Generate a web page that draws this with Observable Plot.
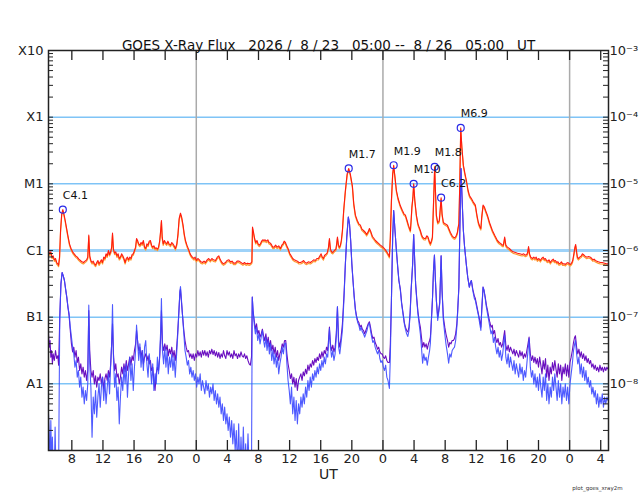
<!DOCTYPE html>
<html><head><meta charset="utf-8">
<script src="https://cdn.jsdelivr.net/npm/d3@7"></script>
<script src="https://cdn.jsdelivr.net/npm/@observablehq/plot@0.6"></script>
<style>body{margin:0;background:#fff} svg text{white-space:pre}</style>
</head><body><div id="chart"></div><script>
// Each pair: [hours since 2026-08-23 05:00 UT, log10 flux in W/m^2]
const longChannel = [[0,-6.00],[0.15,-6.05],[0.3,-6.02],[0.45,-6.1],[0.6,-6.08],[0.75,-6.14],[0.9,-6.12],[1.05,-6.18],[1.2,-6.2],[1.3,-6.22],[1.42,-6.1],[1.55,-5.7],[1.7,-5.45],[1.84,-5.387],[1.98,-5.45],[2.15,-5.55],[2.3,-5.65],[2.5,-5.78],[2.7,-5.9],[2.9,-5.97],[3.1,-6.02],[3.3,-6.05],[3.5,-6.08],[3.7,-6.1],[3.9,-6.13],[4.1,-6.15],[4.3,-6.17],[4.5,-6.18],[4.7,-6.16],[4.9,-6.14],[5.05,-6.1],[5.18,-5.77],[5.3,-6.08],[5.45,-6.15],[5.6,-6.18],[5.75,-6.16],[5.9,-6.2],[6.05,-6.22],[6.2,-6.18],[6.35,-6.15],[6.5,-6.2],[6.65,-6.17],[6.8,-6.14],[6.95,-6.18],[7.1,-6.1],[7.25,-6.12],[7.4,-6.05],[7.55,-6.08],[7.71,-6.00],[7.85,-6.06],[8.0,-6.02],[8.12,-5.95],[8.23,-5.74],[8.35,-5.98],[8.5,-6.04],[8.65,-6.02],[8.8,-6.08],[8.95,-6.05],[9.1,-6.12],[9.25,-6.1],[9.4,-6.05],[9.55,-6.08],[9.7,-6.12],[9.85,-6.18],[10.0,-6.12],[10.15,-6.1],[10.3,-6.14],[10.45,-6.1],[10.6,-6.12],[10.75,-6.06],[10.9,-6.05],[11.05,-6.0],[11.2,-5.95],[11.32,-5.82],[11.45,-5.85],[11.6,-5.9],[11.75,-5.92],[11.9,-5.88],[12.05,-5.9],[12.2,-5.85],[12.35,-5.95],[12.5,-5.97],[12.65,-5.9],[12.8,-5.92],[12.95,-5.86],[13.1,-5.85],[13.25,-5.92],[13.4,-5.95],[13.55,-5.93],[13.7,-5.97],[13.85,-5.96],[14.0,-5.98],[14.15,-5.95],[14.3,-5.85],[14.42,-5.7],[14.52,-5.55],[14.62,-5.8],[14.75,-5.9],[14.9,-5.85],[15.05,-5.88],[15.2,-5.9],[15.35,-5.86],[15.5,-5.9],[15.68,-5.92],[15.85,-5.88],[16.0,-5.9],[16.15,-5.93],[16.32,-5.97],[16.5,-5.9],[16.65,-5.75],[16.8,-5.52],[16.97,-5.44],[17.12,-5.5],[17.3,-5.62],[17.45,-5.75],[17.61,-5.85],[17.8,-5.92],[18.0,-5.98],[18.15,-6.03],[18.3,-6.07],[18.5,-6.1],[18.7,-6.12],[18.85,-6.1],[19.02,-6.15],[19.2,-6.12],[19.4,-6.14],[19.6,-6.17],[19.8,-6.18],[20.0,-6.16],[20.18,-6.18],[20.4,-6.14],[20.6,-6.12],[20.8,-6.15],[21.0,-6.12],[21.2,-6.14],[21.47,-6.15],[21.7,-6.1],[21.9,-6.08],[22.1,-6.14],[22.3,-6.18],[22.5,-6.2],[22.75,-6.18],[22.95,-6.15],[23.2,-6.14],[23.4,-6.17],[23.6,-6.16],[23.8,-6.19],[24.04,-6.19],[24.25,-6.16],[24.5,-6.16],[24.75,-6.18],[25.0,-6.20],[25.2,-6.18],[25.4,-6.2],[25.6,-6.19],[25.8,-6.2],[26.0,-6.19],[26.15,-6.17],[26.23,-5.65],[26.35,-5.72],[26.5,-5.82],[26.65,-5.88],[26.8,-5.85],[26.95,-5.9],[27.1,-5.92],[27.25,-5.9],[27.4,-5.86],[27.55,-5.84],[27.7,-5.85],[27.85,-5.84],[28.0,-5.86],[28.2,-5.84],[28.35,-5.88],[28.53,-5.89],[28.7,-5.92],[28.85,-5.95],[29.0,-5.95],[29.2,-5.92],[29.4,-5.95],[29.6,-5.93],[29.82,-5.97],[30.0,-5.92],[30.15,-5.9],[30.3,-5.86],[30.46,-5.88],[30.6,-5.92],[30.8,-5.97],[31.0,-6.04],[31.2,-6.08],[31.4,-6.12],[31.6,-6.14],[31.8,-6.15],[32.0,-6.16],[32.2,-6.18],[32.39,-6.18],[32.6,-6.17],[32.8,-6.15],[33.0,-6.18],[33.2,-6.19],[33.4,-6.17],[33.68,-6.18],[33.9,-6.16],[34.1,-6.14],[34.3,-6.15],[34.5,-6.12],[34.7,-6.12],[34.9,-6.08],[35.05,-6.05],[35.2,-6.1],[35.35,-6.12],[35.5,-6.07],[35.65,-6.06],[35.85,-6.03],[36.0,-5.95],[36.12,-5.82],[36.25,-5.98],[36.4,-6.02],[36.55,-6.03],[36.75,-6.0],[36.95,-5.98],[37.05,-5.9],[37.15,-5.80],[37.28,-5.92],[37.4,-5.95],[37.53,-5.92],[37.65,-5.85],[37.79,-5.70],[37.95,-5.4],[38.17,-5.10],[38.4,-4.85],[38.6,-4.770],[38.8,-4.85],[39.07,-5.03],[39.25,-5.3],[39.46,-5.47],[39.7,-5.55],[39.9,-5.6],[40.1,-5.62],[40.3,-5.68],[40.5,-5.7],[40.75,-5.73],[40.9,-5.76],[41.1,-5.72],[41.26,-5.67],[41.45,-5.72],[41.65,-5.79],[41.85,-5.82],[42.03,-5.85],[42.3,-5.88],[42.5,-5.9],[42.67,-5.92],[42.9,-5.94],[43.1,-5.96],[43.32,-5.99],[43.55,-6.03],[43.75,-6.07],[43.83,-6.09],[43.95,-5.8],[44.09,-5.25],[44.25,-4.85],[44.38,-4.721],[44.55,-4.9],[44.73,-5.10],[44.95,-5.22],[45.24,-5.33],[45.5,-5.4],[45.7,-5.45],[45.89,-5.47],[46.1,-5.55],[46.27,-5.62],[46.45,-5.68],[46.53,-5.70],[46.62,-5.55],[46.72,-5.35],[46.85,-5.2],[46.95,-5.00],[47.1,-5.25],[47.3,-5.47],[47.5,-5.6],[47.65,-5.65],[47.81,-5.70],[47.95,-5.76],[48.1,-5.80],[48.3,-5.82],[48.46,-5.82],[48.65,-5.78],[48.8,-5.80],[48.95,-5.86],[49.1,-5.90],[49.25,-5.85],[49.36,-5.80],[49.5,-5.3],[49.65,-4.745],[49.75,-5.1],[49.87,-5.47],[50.04,-5.58],[50.15,-5.57],[50.25,-5.55],[50.35,-5.4],[50.48,-5.208],[50.6,-5.45],[50.77,-5.58],[51.0,-5.6],[51.29,-5.62],[51.5,-5.68],[51.67,-5.73],[51.9,-5.78],[52.06,-5.80],[52.2,-5.81],[52.31,-5.80],[52.45,-5.77],[52.57,-5.73],[52.67,-5.65],[52.76,-5.60],[52.88,-5.0],[53.0,-4.161],[53.15,-4.45],[53.34,-4.72],[53.55,-4.85],[53.73,-4.95],[53.95,-5.1],[54.11,-5.17],[54.25,-5.2],[54.37,-5.22],[54.6,-5.27],[54.88,-5.32],[55.1,-5.48],[55.27,-5.58],[55.45,-5.64],[55.59,-5.67],[55.7,-5.5],[55.87,-5.32],[56.05,-5.35],[56.2,-5.4],[56.43,-5.47],[56.7,-5.58],[57.07,-5.70],[57.4,-5.78],[57.71,-5.85],[57.95,-5.88],[58.2,-5.90],[58.35,-5.92],[58.48,-5.92],[58.58,-5.85],[58.65,-5.80],[58.8,-5.92],[59.0,-5.95],[59.25,-5.97],[59.5,-6.00],[59.75,-6.02],[60.03,-6.03],[60.3,-6.04],[60.6,-6.05],[60.9,-6.06],[61.1,-6.05],[61.31,-6.07],[61.5,-6.06],[61.62,-6.02],[61.72,-5.94],[61.85,-6.05],[62.0,-6.1],[62.21,-6.12],[62.4,-6.1],[62.55,-6.12],[62.7,-6.10],[62.85,-6.14],[63.05,-6.12],[63.24,-6.15],[63.4,-6.12],[63.6,-6.10],[63.75,-6.13],[63.88,-6.12],[64.05,-6.15],[64.2,-6.16],[64.35,-6.14],[64.52,-6.18],[64.7,-6.15],[64.9,-6.13],[65.05,-6.16],[65.17,-6.15],[65.35,-6.18],[65.5,-6.17],[65.65,-6.2],[65.81,-6.19],[65.95,-6.17],[66.1,-6.20],[66.3,-6.2],[66.45,-6.21],[66.6,-6.19],[66.8,-6.18],[66.95,-6.2],[67.1,-6.21],[67.25,-6.19],[67.4,-6.15],[67.55,-6.05],[67.68,-5.95],[67.78,-5.91],[67.9,-6.02],[68.0,-6.1],[68.12,-6.12],[68.3,-6.1],[68.5,-6.08],[68.65,-6.05],[68.77,-6.06],[68.95,-6.08],[69.2,-6.10],[69.45,-6.09],[69.67,-6.10],[69.85,-6.12],[70.0,-6.14],[70.15,-6.13],[70.31,-6.15],[70.5,-6.16],[70.7,-6.17],[70.95,-6.18],[71.2,-6.18],[71.5,-6.19],[71.7,-6.2],[71.95,-6.20]];

const shortChannel = [[0.0,-8.45],[0.1,-8.75],[0.2,-9.3],[0.3,-8.55],[0.4,-9.3],[0.5,-8.8],[0.6,-9.3],[0.75,-9.3],[0.85,-8.65],[0.95,-9.3],[1.1,-9.3],[1.3,-9.3],[1.45,-7.0],[1.6,-6.5],[1.75,-6.33],[1.9,-6.38],[2.05,-6.45],[2.2,-6.58],[2.35,-6.7],[2.5,-6.85],[2.65,-6.95],[2.8,-7.15],[2.95,-7.3],[3.1,-7.45],[3.25,-7.55],[3.4,-7.75],[3.55,-7.65],[3.7,-7.9],[3.85,-7.8],[4.0,-8.05],[4.15,-7.9],[4.3,-8.2],[4.45,-8.05],[4.6,-8.3],[4.75,-8.1],[4.9,-8.25],[5.05,-8.0],[5.18,-6.82],[5.3,-7.7],[5.45,-8.05],[5.6,-8.8],[5.75,-8.2],[5.9,-8.45],[6.05,-8.1],[6.2,-8.5],[6.35,-8.2],[6.5,-8.0],[6.65,-8.35],[6.8,-8.05],[6.95,-7.9],[7.1,-8.25],[7.25,-7.95],[7.4,-8.3],[7.55,-8.05],[7.7,-7.85],[7.85,-8.15],[8.0,-7.7],[8.12,-7.4],[8.23,-6.81],[8.35,-7.6],[8.5,-8.05],[8.65,-7.85],[8.8,-8.25],[8.95,-8.05],[9.1,-8.6],[9.25,-8.2],[9.4,-7.9],[9.55,-8.1],[9.7,-7.75],[9.85,-8.0],[10.0,-7.7],[10.15,-8.2],[10.3,-7.85],[10.45,-7.6],[10.6,-7.95],[10.75,-7.7],[10.9,-8.1],[11.05,-7.75],[11.2,-7.5],[11.32,-7.12],[11.45,-7.35],[11.6,-7.65],[11.75,-7.4],[11.9,-7.75],[12.05,-7.5],[12.2,-7.8],[12.35,-7.45],[12.5,-7.35],[12.65,-7.7],[12.8,-7.9],[12.95,-7.55],[13.1,-7.75],[13.25,-8.0],[13.4,-7.7],[13.55,-8.1],[13.7,-7.85],[13.85,-8.0],[14.0,-7.6],[14.15,-7.85],[14.3,-7.55],[14.42,-7.2],[14.52,-6.72],[14.65,-7.5],[14.8,-7.7],[14.95,-7.45],[15.1,-7.75],[15.25,-7.5],[15.4,-7.85],[15.55,-7.6],[15.7,-7.75],[15.85,-7.55],[16.0,-7.8],[16.15,-7.6],[16.3,-7.9],[16.45,-7.6],[16.6,-7.3],[16.75,-6.95],[16.9,-6.6],[16.97,-6.54],[17.1,-6.75],[17.25,-7.0],[17.4,-7.25],[17.55,-7.5],[17.7,-7.6],[17.85,-7.72],[18.0,-7.65],[18.15,-7.85],[18.3,-7.75],[18.45,-7.9],[18.6,-7.8],[18.75,-7.95],[18.9,-7.85],[19.05,-8.05],[19.2,-7.9],[19.35,-8.0],[19.5,-7.85],[19.65,-8.1],[19.8,-7.95],[19.95,-8.05],[20.1,-8.15],[20.25,-7.95],[20.4,-8.1],[20.55,-8.0],[20.7,-8.2],[20.85,-8.05],[21.0,-8.15],[21.15,-8.0],[21.3,-8.25],[21.45,-8.1],[21.6,-8.3],[21.75,-8.15],[21.9,-8.35],[22.05,-8.2],[22.2,-8.45],[22.35,-8.3],[22.5,-8.55],[22.65,-8.35],[22.8,-8.6],[22.95,-8.45],[23.1,-8.7],[23.25,-8.5],[23.4,-8.8],[23.55,-8.55],[23.7,-8.9],[23.85,-8.6],[24.0,-9.0],[24.15,-8.7],[24.3,-9.3],[24.45,-8.6],[24.6,-9.3],[24.75,-8.8],[24.9,-9.3],[25.05,-8.65],[25.2,-9.3],[25.35,-8.9],[25.5,-9.3],[25.65,-8.75],[25.8,-9.3],[25.95,-9.3],[26.1,-9.3],[26.2,-6.70],[26.3,-6.9],[26.45,-7.1],[26.6,-7.25],[26.75,-7.15],[26.9,-7.35],[27.05,-7.25],[27.2,-7.4],[27.35,-7.3],[27.5,-7.2],[27.65,-7.35],[27.8,-7.45],[27.95,-7.3],[28.1,-7.5],[28.25,-7.35],[28.4,-7.55],[28.55,-7.4],[28.7,-7.65],[28.85,-7.5],[29.0,-7.7],[29.15,-7.55],[29.3,-7.75],[29.45,-7.6],[29.6,-7.85],[29.75,-7.7],[29.9,-7.6],[30.05,-7.45],[30.2,-7.55],[30.35,-7.4],[30.5,-7.39],[30.65,-7.7],[30.8,-7.95],[30.95,-8.1],[31.1,-8.3],[31.25,-8.05],[31.4,-8.45],[31.55,-8.2],[31.7,-8.55],[31.85,-8.25],[32.0,-8.6],[32.15,-8.3],[32.3,-8.45],[32.45,-8.2],[32.6,-8.35],[32.75,-8.15],[32.9,-8.3],[33.05,-8.05],[33.2,-8.2],[33.35,-7.95],[33.5,-8.1],[33.65,-7.9],[33.8,-8.05],[33.95,-7.85],[34.1,-7.95],[34.25,-7.8],[34.4,-7.9],[34.55,-7.75],[34.7,-7.85],[34.85,-7.7],[35.0,-7.8],[35.15,-7.65],[35.3,-7.75],[35.45,-7.6],[35.6,-7.7],[35.75,-7.55],[35.9,-7.6],[36.0,-7.4],[36.12,-7.17],[36.25,-7.45],[36.4,-7.6],[36.55,-7.5],[36.7,-7.65],[36.85,-7.55],[37.0,-7.3],[37.15,-6.84],[37.3,-7.45],[37.45,-7.55],[37.6,-7.4],[37.79,-7.2],[38.0,-6.7],[38.17,-6.2],[38.35,-5.8],[38.55,-5.50],[38.7,-5.6],[38.85,-5.85],[39.0,-6.2],[39.15,-6.45],[39.3,-6.7],[39.46,-6.9],[39.6,-7.0],[39.75,-7.08],[39.9,-7.12],[40.05,-7.2],[40.2,-7.15],[40.35,-7.22],[40.5,-7.25],[40.65,-7.3],[40.8,-7.25],[40.95,-7.2],[41.1,-7.12],[41.26,-7.09],[41.4,-7.2],[41.55,-7.3],[41.7,-7.38],[41.85,-7.35],[42.0,-7.45],[42.15,-7.5],[42.3,-7.55],[42.45,-7.5],[42.6,-7.62],[42.75,-7.68],[42.9,-7.65],[43.05,-7.75],[43.2,-7.8],[43.35,-7.72],[43.5,-7.9],[43.65,-7.95],[43.83,-8.07],[43.95,-7.6],[44.09,-6.75],[44.25,-5.8],[44.38,-5.40],[44.55,-5.7],[44.73,-6.00],[44.9,-6.25],[45.05,-6.45],[45.24,-6.60],[45.4,-6.8],[45.6,-6.97],[45.75,-7.1],[45.89,-7.18],[46.05,-7.25],[46.2,-7.29],[46.35,-7.2],[46.5,-6.95],[46.62,-6.6],[46.72,-6.4],[46.82,-6.2],[46.95,-5.76],[47.1,-6.2],[47.2,-6.5],[47.35,-6.75],[47.5,-6.95],[47.65,-7.1],[47.81,-7.25],[47.95,-7.45],[48.1,-7.69],[48.25,-7.55],[48.4,-7.65],[48.55,-7.6],[48.7,-7.72],[48.85,-7.6],[49.0,-7.5],[49.1,-7.39],[49.25,-7.0],[49.36,-6.75],[49.5,-6.3],[49.62,-6.07],[49.75,-6.45],[49.87,-6.75],[50.04,-7.05],[50.15,-6.95],[50.3,-6.8],[50.4,-6.4],[50.48,-6.08],[50.6,-6.6],[50.77,-7.05],[50.95,-7.25],[51.1,-7.4],[51.3,-7.55],[51.45,-7.69],[51.6,-7.55],[51.75,-7.6],[51.9,-7.5],[52.06,-7.47],[52.2,-7.45],[52.35,-7.35],[52.5,-7.15],[52.6,-6.95],[52.76,-6.55],[52.9,-5.6],[53.04,-4.77],[53.2,-5.3],[53.34,-5.70],[53.5,-5.95],[53.73,-6.22],[53.9,-6.4],[54.11,-6.55],[54.25,-6.48],[54.37,-6.45],[54.55,-6.6],[54.75,-6.72],[54.88,-6.75],[55.05,-6.85],[55.27,-6.97],[55.45,-7.1],[55.59,-7.20],[55.7,-6.9],[55.87,-6.55],[56.0,-6.6],[56.15,-6.72],[56.3,-6.85],[56.45,-6.95],[56.6,-7.05],[56.75,-7.15],[56.9,-7.25],[57.05,-7.2],[57.2,-7.38],[57.35,-7.3],[57.5,-7.45],[57.65,-7.55],[57.8,-7.45],[57.95,-7.6],[58.1,-7.5],[58.25,-7.65],[58.4,-7.55],[58.52,-7.4],[58.65,-7.27],[58.8,-7.6],[58.95,-7.7],[59.1,-7.55],[59.25,-7.75],[59.4,-7.6],[59.55,-7.7],[59.7,-7.8],[59.85,-7.65],[60.0,-7.85],[60.15,-7.7],[60.3,-7.8],[60.45,-7.9],[60.6,-7.7],[60.75,-7.85],[60.9,-7.75],[61.05,-7.95],[61.2,-7.8],[61.35,-7.9],[61.5,-7.7],[61.65,-7.5],[61.79,-7.32],[61.95,-7.75],[62.1,-7.9],[62.25,-7.8],[62.4,-8.0],[62.55,-7.85],[62.7,-8.05],[62.85,-7.9],[63.0,-8.1],[63.15,-7.85],[63.3,-8.05],[63.45,-8.2],[63.6,-7.9],[63.75,-8.1],[63.9,-7.85],[64.05,-8.25],[64.2,-8.0],[64.35,-8.3],[64.5,-8.05],[64.65,-8.2],[64.8,-7.9],[64.95,-8.1],[65.1,-7.85],[65.25,-8.05],[65.4,-8.25],[65.55,-7.95],[65.7,-8.2],[65.85,-8.0],[66.0,-8.3],[66.15,-8.05],[66.3,-8.2],[66.45,-8.0],[66.6,-8.25],[66.75,-8.05],[66.9,-8.3],[67.05,-8.0],[67.2,-7.85],[67.35,-7.7],[67.5,-7.5],[67.65,-7.4],[67.75,-7.35],[67.9,-7.55],[68.05,-7.7],[68.2,-7.6],[68.35,-7.85],[68.5,-7.7],[68.65,-7.9],[68.8,-7.75],[68.95,-7.95],[69.1,-7.8],[69.25,-8.0],[69.4,-7.9],[69.55,-8.05],[69.7,-7.95],[69.85,-8.15],[70.0,-8.05],[70.15,-8.2],[70.3,-8.1],[70.45,-8.3],[70.6,-8.15],[70.75,-8.35],[70.9,-8.2],[71.05,-8.3],[71.2,-8.15],[71.35,-8.35],[71.5,-8.2],[71.65,-8.3],[71.8,-8.2],[71.95,-8.25]];

const shortChannel2 = [[0.0,-7.25],[0.1,-7.45],[0.2,-7.35],[0.3,-7.6],[0.4,-7.5],[0.5,-7.7],[0.6,-7.55],[0.75,-7.65],[0.9,-7.5],[1.05,-7.62],[1.2,-7.58],[1.3,-7.72],[1.45,-7.0],[1.6,-6.5],[1.75,-6.33],[1.9,-6.38],[2.05,-6.45],[2.2,-6.58],[2.35,-6.7],[2.5,-6.85],[2.65,-6.98],[2.8,-7.2],[2.95,-7.4],[3.1,-7.52],[3.25,-7.45],[3.4,-7.6],[3.55,-7.5],[3.7,-7.68],[3.85,-7.6],[4.0,-7.8],[4.15,-7.7],[4.3,-7.85],[4.45,-7.75],[4.6,-7.9],[4.75,-7.8],[4.9,-7.95],[5.05,-7.8],[5.18,-6.9],[5.3,-7.5],[5.45,-7.8],[5.6,-7.9],[5.75,-7.8],[5.9,-8.0],[6.05,-7.88],[6.2,-8.05],[6.35,-7.9],[6.5,-7.95],[6.65,-7.85],[6.8,-8.0],[6.95,-7.9],[7.1,-8.08],[7.25,-7.92],[7.4,-7.85],[7.55,-7.95],[7.7,-7.8],[7.85,-7.9],[8.0,-7.7],[8.12,-7.4],[8.23,-7.10],[8.35,-7.55],[8.5,-7.8],[8.65,-7.7],[8.8,-7.9],[8.95,-7.85],[9.1,-8.0],[9.25,-7.9],[9.4,-7.75],[9.55,-7.85],[9.7,-7.7],[9.85,-7.82],[10.0,-7.65],[10.15,-7.8],[10.3,-7.7],[10.45,-7.6],[10.6,-7.72],[10.75,-7.58],[10.9,-7.65],[11.05,-7.5],[11.2,-7.4],[11.32,-7.2],[11.45,-7.35],[11.6,-7.5],[11.75,-7.45],[11.9,-7.6],[12.05,-7.5],[12.2,-7.7],[12.35,-7.6],[12.5,-7.55],[12.65,-7.65],[12.8,-7.58],[12.95,-7.7],[13.1,-7.65],[13.25,-7.8],[13.4,-7.75],[13.55,-7.95],[13.7,-8.1],[13.85,-7.85],[14.0,-7.75],[14.15,-7.8],[14.3,-7.6],[14.42,-7.3],[14.52,-6.90],[14.65,-7.4],[14.8,-7.5],[14.95,-7.4],[15.1,-7.5],[15.25,-7.42],[15.4,-7.58],[15.55,-7.48],[15.7,-7.55],[15.85,-7.45],[16.0,-7.6],[16.15,-7.5],[16.3,-7.65],[16.45,-7.5],[16.6,-7.25],[16.75,-6.95],[16.9,-6.62],[16.97,-6.58],[17.1,-6.78],[17.25,-7.0],[17.4,-7.2],[17.55,-7.35],[17.7,-7.45],[17.85,-7.52],[18.0,-7.5],[18.15,-7.6],[18.3,-7.55],[18.45,-7.62],[18.6,-7.55],[18.75,-7.65],[18.9,-7.55],[19.05,-7.6],[19.2,-7.5],[19.35,-7.58],[19.5,-7.52],[19.65,-7.6],[19.8,-7.5],[19.95,-7.57],[20.1,-7.5],[20.25,-7.58],[20.4,-7.52],[20.55,-7.6],[20.7,-7.5],[20.85,-7.55],[21.0,-7.48],[21.15,-7.56],[21.3,-7.5],[21.45,-7.58],[21.6,-7.52],[21.75,-7.6],[21.9,-7.53],[22.05,-7.62],[22.2,-7.55],[22.35,-7.6],[22.5,-7.5],[22.65,-7.58],[22.8,-7.62],[22.95,-7.5],[23.1,-7.57],[23.25,-7.52],[23.4,-7.6],[23.55,-7.55],[23.7,-7.62],[23.85,-7.5],[24.0,-7.58],[24.15,-7.55],[24.3,-7.62],[24.45,-7.55],[24.6,-7.6],[24.75,-7.52],[24.9,-7.58],[25.05,-7.6],[25.2,-7.55],[25.35,-7.62],[25.5,-7.58],[25.65,-7.65],[25.8,-7.7],[25.95,-7.72],[26.1,-7.6],[26.2,-6.70],[26.3,-6.9],[26.45,-7.05],[26.6,-7.18],[26.75,-7.1],[26.9,-7.25],[27.05,-7.2],[27.2,-7.3],[27.35,-7.25],[27.5,-7.18],[27.65,-7.28],[27.8,-7.35],[27.95,-7.25],[28.1,-7.4],[28.25,-7.3],[28.4,-7.45],[28.55,-7.35],[28.7,-7.5],[28.85,-7.42],[29.0,-7.55],[29.15,-7.45],[29.3,-7.6],[29.45,-7.5],[29.6,-7.65],[29.75,-7.55],[29.9,-7.5],[30.05,-7.4],[30.2,-7.45],[30.35,-7.35],[30.5,-7.35],[30.65,-7.55],[30.8,-7.7],[30.95,-7.8],[31.1,-7.92],[31.25,-7.85],[31.4,-8.0],[31.55,-7.9],[31.7,-8.05],[31.85,-7.92],[32.0,-8.1],[32.15,-7.95],[32.3,-7.9],[32.45,-7.85],[32.6,-7.95],[32.75,-7.82],[32.9,-7.88],[33.05,-7.78],[33.2,-7.85],[33.35,-7.72],[33.5,-7.8],[33.65,-7.7],[33.8,-7.75],[33.95,-7.65],[34.1,-7.72],[34.25,-7.62],[34.4,-7.68],[34.55,-7.6],[34.7,-7.65],[34.85,-7.55],[35.0,-7.62],[35.15,-7.52],[35.3,-7.6],[35.45,-7.5],[35.6,-7.55],[35.75,-7.45],[35.9,-7.5],[36.0,-7.35],[36.12,-7.15],[36.25,-7.4],[36.4,-7.5],[36.55,-7.42],[36.7,-7.52],[36.85,-7.45],[37.0,-7.25],[37.15,-6.85],[37.3,-7.35],[37.45,-7.45],[37.6,-7.32],[37.79,-7.1],[38.0,-6.65],[38.17,-6.2],[38.35,-5.8],[38.55,-5.50],[38.7,-5.6],[38.85,-5.85],[39.0,-6.2],[39.15,-6.45],[39.3,-6.68],[39.46,-6.88],[39.6,-6.98],[39.75,-7.05],[39.9,-7.08],[40.05,-7.15],[40.2,-7.12],[40.35,-7.18],[40.5,-7.2],[40.65,-7.25],[40.8,-7.2],[40.95,-7.15],[41.1,-7.1],[41.26,-7.07],[41.4,-7.15],[41.55,-7.25],[41.7,-7.32],[41.85,-7.3],[42.0,-7.38],[42.15,-7.42],[42.3,-7.48],[42.45,-7.45],[42.6,-7.52],[42.75,-7.55],[42.9,-7.55],[43.05,-7.6],[43.2,-7.62],[43.35,-7.58],[43.5,-7.65],[43.65,-7.68],[43.83,-7.68],[43.95,-7.4],[44.09,-6.75],[44.25,-5.8],[44.38,-5.40],[44.55,-5.7],[44.73,-6.00],[44.9,-6.25],[45.05,-6.45],[45.24,-6.58],[45.4,-6.78],[45.6,-6.95],[45.75,-7.08],[45.89,-7.15],[46.05,-7.2],[46.2,-7.22],[46.35,-7.15],[46.5,-6.92],[46.62,-6.6],[46.72,-6.4],[46.82,-6.2],[46.95,-5.76],[47.1,-6.2],[47.2,-6.5],[47.35,-6.72],[47.5,-6.92],[47.65,-7.05],[47.81,-7.15],[47.95,-7.3],[48.1,-7.45],[48.25,-7.38],[48.4,-7.45],[48.55,-7.4],[48.7,-7.48],[48.85,-7.4],[49.0,-7.35],[49.1,-7.3],[49.25,-7.0],[49.36,-6.75],[49.5,-6.3],[49.62,-6.07],[49.75,-6.45],[49.87,-6.75],[50.04,-7.0],[50.15,-6.92],[50.3,-6.78],[50.4,-6.4],[50.48,-6.08],[50.6,-6.6],[50.77,-7.0],[50.95,-7.15],[51.1,-7.25],[51.3,-7.35],[51.45,-7.45],[51.6,-7.38],[51.75,-7.4],[51.9,-7.35],[52.06,-7.35],[52.2,-7.32],[52.35,-7.25],[52.5,-7.1],[52.6,-6.92],[52.76,-6.55],[52.9,-5.6],[53.04,-4.77],[53.2,-5.3],[53.34,-5.70],[53.5,-5.95],[53.73,-6.22],[53.9,-6.4],[54.11,-6.55],[54.25,-6.48],[54.37,-6.45],[54.55,-6.58],[54.75,-6.68],[54.88,-6.72],[55.05,-6.82],[55.27,-6.95],[55.45,-7.05],[55.59,-7.15],[55.7,-6.9],[55.87,-6.55],[56.0,-6.6],[56.15,-6.7],[56.3,-6.82],[56.45,-6.9],[56.6,-7.0],[56.75,-7.08],[56.9,-7.15],[57.05,-7.12],[57.2,-7.25],[57.35,-7.2],[57.5,-7.32],[57.65,-7.38],[57.8,-7.32],[57.95,-7.42],[58.1,-7.38],[58.25,-7.45],[58.4,-7.4],[58.52,-7.3],[58.65,-7.20],[58.8,-7.42],[58.95,-7.5],[59.1,-7.42],[59.25,-7.52],[59.4,-7.45],[59.55,-7.5],[59.7,-7.55],[59.85,-7.48],[60.0,-7.58],[60.15,-7.5],[60.3,-7.55],[60.45,-7.6],[60.6,-7.5],[60.75,-7.58],[60.9,-7.52],[61.05,-7.62],[61.2,-7.55],[61.35,-7.6],[61.5,-7.5],[61.65,-7.4],[61.79,-7.30],[61.95,-7.55],[62.1,-7.65],[62.25,-7.58],[62.4,-7.68],[62.55,-7.6],[62.7,-7.7],[62.85,-7.62],[63.0,-7.75],[63.15,-7.6],[63.3,-7.72],[63.45,-7.85],[63.6,-7.65],[63.75,-7.78],[63.9,-7.62],[64.05,-7.9],[64.2,-7.72],[64.35,-7.95],[64.5,-7.75],[64.65,-7.85],[64.8,-7.68],[64.95,-7.8],[65.1,-7.65],[65.25,-7.78],[65.4,-7.9],[65.55,-7.7],[65.7,-7.85],[65.85,-7.72],[66.0,-7.95],[66.15,-7.75],[66.3,-7.85],[66.45,-7.7],[66.6,-7.88],[66.75,-7.72],[66.9,-7.9],[67.05,-7.68],[67.2,-7.6],[67.35,-7.5],[67.5,-7.38],[67.65,-7.3],[67.75,-7.28],[67.9,-7.45],[68.05,-7.55],[68.2,-7.48],[68.35,-7.6],[68.5,-7.52],[68.65,-7.62],[68.8,-7.55],[68.95,-7.65],[69.1,-7.58],[69.25,-7.68],[69.4,-7.62],[69.55,-7.7],[69.7,-7.65],[69.85,-7.75],[70.0,-7.7],[70.15,-7.78],[70.3,-7.72],[70.45,-7.8],[70.6,-7.75],[70.75,-7.82],[70.9,-7.72],[71.05,-7.8],[71.2,-7.75],[71.35,-7.82],[71.5,-7.75],[71.65,-7.8],[71.8,-7.75],[71.95,-7.78]];

const flareHours = [1.84, 38.6, 44.38, 46.95, 49.65, 50.48, 53.0];
const flareFlux  = [4.1e-6, 1.7e-5, 1.9e-5, 1.0e-5, 1.8e-5, 6.2e-6, 6.9e-5];
const flareLabels = ["C4.1", "M1.7", "M1.9", "M1.0", "M1.8", "C6.2", "M6.9"];

const classLevels = [1e-3, 1e-4, 1e-5, 1e-6, 1e-7, 1e-8];
const classLabels = ["X10", "X1", "M1", "C1", "B1", "A1"];
const powerLabels = ["10\u207B\u00B3", "10\u207B\u2074", "10\u207B\u2075", "10\u207B\u2076", "10\u207B\u2077", "10\u207B\u2078"];
const gridLevels = [1e-4, 1e-5, 1e-7, 1e-8];
const cLevel = [1e-6];
const tickHours = [3, 7, 11, 15, 19, 23, 27, 31, 35, 39, 43, 47, 51, 55, 59, 63, 67, 71];
const tickLabels = ["8","12","16","20","0","4","8","12","16","20","0","4","8","12","16","20","0","4"];
const dayHours = [19, 43, 67];
const titleText = "GOES X-Ray Flux   2026 /  8 / 23   05:00 --  8 / 26   05:00   UT";

const t0 = Date.UTC(2026, 7, 23, 5);
const toDate = h => new Date(t0 + h * 3600e3);
const start = toDate(0), end = toDate(72);
const minorTicks = [];
for (let e = -9; e < -3; e++) for (let m = 1; m <= 9; m++) minorTicks.push(m * Math.pow(10, e));
minorTicks.push(1e-3);

const toRows = pts => pts.map(([h, L]) => ({t: toDate(h), f: Math.pow(10, L)}));
const longData = toRows(longChannel);
const shortData = toRows(shortChannel);
const short2Data = toRows(shortChannel2);
const flares = flareHours.map((h, i) => ({t: toDate(h), f: flareFlux[i], label: flareLabels[i]}));
const hourTicks = tickHours.map((h, i) => ({t: toDate(h), label: tickLabels[i]}));
const dayLines = dayHours.map(toDate);

const W = 640, H = 500, ML = 48, MR = 32, MT = 50, MB = 50;
const iw = W - ML - MR, ih = H - MT - MB;
const font = "DejaVu Sans, sans-serif";

const chart = Plot.plot({
  width: W, height: H,
  marginLeft: ML, marginRight: MR, marginTop: MT, marginBottom: MB,
  style: {fontFamily: font, background: "#fff", color: "#222"},
  x: {type: "utc", domain: [start, end], axis: null},
  y: {type: "log", domain: [1e-9, 1e-3], axis: null},
  marks: [
    Plot.ruleY(gridLevels, {stroke: "#3fa6f2", strokeWidth: 1}),
    Plot.ruleY(cLevel, {stroke: "#9ed2f8", strokeWidth: 3}),
    Plot.ruleX(dayLines, {stroke: "#aaaaaa", strokeWidth: 1.5}),
    Plot.line(longData, {x: "t", y: "f", stroke: "#ff9a30", strokeWidth: 1.2, dy: 1.5, clip: true}),
    Plot.line(longData, {x: "t", y: "f", stroke: "#ff1a10", strokeWidth: 1.1, clip: true}),
    Plot.line(short2Data, {x: "t", y: "f", stroke: "#6a0fc0", strokeWidth: 1.1, clip: true}),
    Plot.line(shortData, {x: "t", y: "f", stroke: "#3b48ff", strokeWidth: 1.1, strokeOpacity: 0.9, clip: true}),
    Plot.dot(flares, {x: "t", y: "f", r: 3.5, stroke: "#2a2ae8", strokeWidth: 1.2, fill: "none"}),
    Plot.text(flares, {x: "t", y: "f", text: "label", dy: -14, textAnchor: "start", fontSize: 11, fill: "#111"}),
    Plot.frame({stroke: "#222", strokeWidth: 1.5}),
    Plot.tickY(minorTicks, {y: d => d, insetRight: iw - 5, stroke: "#222"}),
    Plot.tickY(minorTicks, {y: d => d, insetLeft: iw - 5, stroke: "#222"}),
    Plot.tickX(hourTicks, {x: "t", insetBottom: ih - 10, stroke: "#222", strokeWidth: 1.3}),
    Plot.tickX(hourTicks, {x: "t", insetTop: ih - 10, stroke: "#222", strokeWidth: 1.3}),
    Plot.text(classLevels, {y: d => d, frameAnchor: "left", text: (d, i) => classLabels[i], textAnchor: "end", dx: -5, fontSize: 13, fill: "#222"}),
    Plot.text(classLevels, {y: d => d, frameAnchor: "right", text: (d, i) => powerLabels[i], textAnchor: "start", dx: 1, fontSize: 13, fill: "#222"}),
    Plot.text(hourTicks, {x: "t", frameAnchor: "bottom", text: "label", dy: 12, fontSize: 13, fill: "#222"}),
    Plot.text(["UT"], {frameAnchor: "bottom", dy: 28, fontSize: 14, fill: "#222"}),
    Plot.text([titleText], {frameAnchor: "top", dy: -10, fontSize: 13.5, fill: "#111"}),
    Plot.text(["plot_goes_xray2m"], {frameAnchor: "bottom-right", dx: 14, dy: 39, textAnchor: "end", fontSize: 5.5, fill: "#333"})
  ]
});
document.getElementById("chart").appendChild(chart);
</script></body></html>
